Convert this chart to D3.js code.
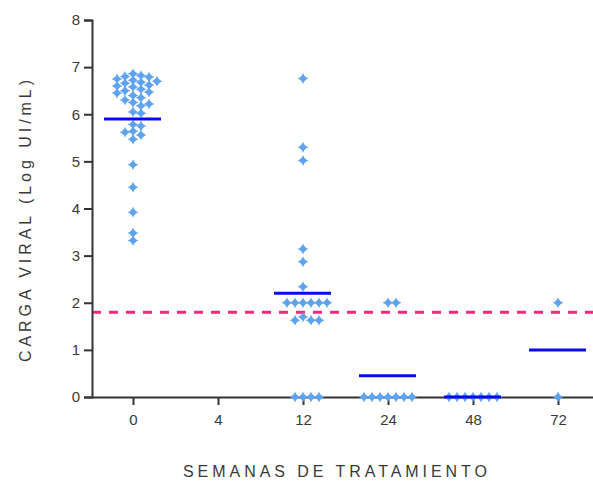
<!DOCTYPE html>
<html>
<head>
<meta charset="utf-8">
<script src="https://cdn.jsdelivr.net/npm/d3@7"></script>
<style>
  html, body { margin: 0; padding: 0; background: #fff; }
  svg { display: block; }
  text { font-family: "Liberation Sans", Arial, sans-serif; fill: #3a3a3a; }
</style>
</head>
<body>
<svg id="chart" width="593" height="485"></svg>
<script>
// Viral load (log IU/mL) per patient at each treatment week
const weeks = ["0", "4", "12", "24", "48", "72"];
const week0 = [6.86, 6.82, 6.80, 6.79, 6.75, 6.72, 6.70, 6.68, 6.66, 6.62, 6.60, 6.58,
               6.53, 6.50, 6.47, 6.45, 6.40, 6.35, 6.30, 6.25, 6.22, 6.18, 6.05, 6.02,
               5.78, 5.75, 5.64, 5.62, 5.56, 5.47, 4.93, 4.45, 3.92, 3.48, 3.32];
const week4 = [];
const week12 = [6.76, 5.30, 5.02, 3.14, 2.87, 2.34,
                2.0, 2.0, 2.0, 2.0, 2.0, 2.0, 1.70, 1.63, 1.63, 1.63,
                0, 0, 0, 0];
const week24 = [2.0, 2.0, 0, 0, 0, 0, 0, 0, 0];
const week48 = [0, 0, 0, 0, 0, 0, 0];
const week72 = [2.0, 0];
const groupMeans = [5.9, null, 2.2, 0.45, 0, 1.0];
const detectionLimit = 1.8;
const yTicks = [0, 1, 2, 3, 4, 5, 6, 7, 8];

const groups = [week0, week4, week12, week24, week48, week72];

const svg = d3.select("#chart");

const x = d3.scalePoint().domain(weeks).range([133, 558]);
const y = d3.scaleLinear().domain([0, 8]).range([397, 20]);

const axisColor = "#333";
const labelFont = '"Liberation Sans", Arial, sans-serif';

// detection limit (dashed)
svg.append("line")
  .attr("x1", 92).attr("x2", 593)
  .attr("y1", y(detectionLimit)).attr("y2", y(detectionLimit))
  .attr("stroke", "#f5287e")
  .attr("stroke-width", 3)
  .attr("stroke-dasharray", "9,8");

// x axis
const xAxis = svg.append("g")
  .attr("transform", `translate(0,${y(0)})`)
  .call(d3.axisBottom(x).tickSize(8).tickPadding(9).tickSizeOuter(0));
xAxis.select(".domain").remove();
xAxis.append("line")
  .attr("x1", 92).attr("x2", 593).attr("y1", 0.5).attr("y2", 0.5)
  .attr("stroke", axisColor).attr("stroke-width", 2);
xAxis.selectAll(".tick line").attr("stroke", axisColor).attr("stroke-width", 2);
xAxis.selectAll(".tick text").attr("font-size", 15).attr("fill", "#3a3a3a")
  .style("font-family", labelFont);

// y axis
const yAxis = svg.append("g")
  .attr("transform", "translate(92,0)")
  .call(d3.axisLeft(y).tickValues(yTicks).tickFormat(d3.format("d"))
    .tickSize(8).tickPadding(4).tickSizeOuter(8));
yAxis.select(".domain").attr("stroke", axisColor).attr("stroke-width", 2);
yAxis.selectAll(".tick line").attr("stroke", axisColor).attr("stroke-width", 2);
yAxis.selectAll(".tick text").attr("font-size", 15).attr("fill", "#3a3a3a")
  .style("font-family", labelFont);

// axis titles
svg.append("text")
  .attr("x", 183).attr("y", 477)
  .attr("font-size", 16)
  .attr("textLength", 304).attr("lengthAdjust", "spacing")
  .text("SEMANAS DE TRATAMIENTO");

svg.append("text")
  .attr("transform", "translate(31,362) rotate(-90)")
  .attr("font-size", 16)
  .attr("textLength", 282).attr("lengthAdjust", "spacing")
  .text("CARGA VIRAL (Log UI/mL)");

// dodge layout: points whose values lie within a few pixels are spread sideways
function swarm(values, cx) {
  const dw = 7.5, dh = 6.5, step = 8;
  const placed = [];
  values.slice().sort((a, b) => b - a).forEach(v => {
    const py = y(v);
    for (let k = 0; k < 40; k++) {
      const off = k === 0 ? 0 : (k % 2 ? 1 : -1) * Math.ceil(k / 2) * step;
      const px = cx + off;
      const free = placed.every(p =>
        ((p.x - px) / dw) ** 2 + ((p.y - py) / dh) ** 2 >= 1);
      if (free) {
        placed.push({x: px, y: py, v});
        break;
      }
    }
  });
  return placed;
}

const glyph = "M0,-5.5L1,-3.2L3.2,-1L5.5,0L3.2,1L1,3.2L0,5.5L-1,3.2L-3.2,1L-5.5,0L-3.2,-1L-1,-3.2Z";

groups.forEach((vals, i) => {
  const pts = swarm(vals, x(weeks[i]));
  svg.append("g").selectAll("path")
    .data(pts).join("path")
    .attr("d", glyph)
    .attr("transform", p => `translate(${p.x},${p.y})`)
    .attr("fill", "#5ea3f2");
});

// group mean lines
svg.append("g").selectAll("line")
  .data(weeks.map((w, i) => ({w, m: groupMeans[i]})).filter(d => d.m !== null))
  .join("line")
  .attr("x1", d => x(d.w) - 29).attr("x2", d => x(d.w) + 28)
  .attr("y1", d => y(d.m)).attr("y2", d => y(d.m))
  .attr("stroke", "#0a0af0")
  .attr("stroke-width", 3);
</script>
</body>
</html>
